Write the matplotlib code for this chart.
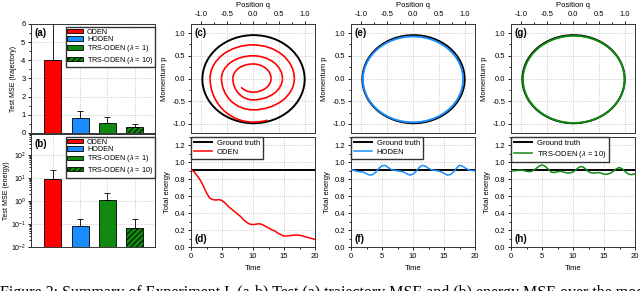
import numpy as np
import matplotlib
matplotlib.use('Agg')
import matplotlib.pyplot as plt
from matplotlib.patches import Arc, Ellipse
from matplotlib.lines import Line2D
from matplotlib.ticker import MultipleLocator, AutoMinorLocator

plt.rcParams['font.family'] = ['Liberation Sans', 'DejaVu Sans']
plt.rcParams['axes.unicode_minus'] = False
plt.rcParams['mathtext.fontset'] = 'custom'
plt.rcParams['mathtext.it'] = 'Liberation Sans:italic'
plt.rcParams['mathtext.rm'] = 'Liberation Sans'
plt.rcParams['hatch.linewidth'] = 0.7

# ---- values ----
models = ['ODEN', 'HODEN', r'TRS-ODEN ($\lambda$ = 1)', r'TRS-ODEN ($\lambda$ = 10)']
mse_traj = [4.03, 0.84, 0.53, 0.31]
mse_traj_err = [3.7, 0.36, 0.33, 0.17]          # upper error only
mse_energy = [9.0, 0.078, 1.05, 0.07]
mse_energy_err = [13.0, 0.087, 1.25, 0.095]

time = np.arange(0, 20.5, 0.5)
energy_truth = 0.915
energy_oden = [0.915, 0.89, 0.84, 0.79, 0.72, 0.64, 0.58, 0.56, 0.555, 0.56,
               0.55, 0.52, 0.48, 0.45, 0.42, 0.39, 0.36, 0.32, 0.29, 0.27,
               0.265, 0.27, 0.275, 0.265, 0.245, 0.225, 0.205, 0.19, 0.165, 0.145,
               0.13, 0.13, 0.135, 0.14, 0.14, 0.14, 0.13, 0.12, 0.11, 0.10, 0.09]
energy_hoden = [0.915, 0.905, 0.895, 0.89, 0.885, 0.865, 0.85, 0.855, 0.885, 0.93,
                0.96, 0.965, 0.94, 0.915, 0.905, 0.90, 0.895, 0.885, 0.865, 0.85,
                0.86, 0.895, 0.94, 0.965, 0.955, 0.93, 0.91, 0.905, 0.90, 0.89,
                0.87, 0.85, 0.855, 0.885, 0.93, 0.965, 0.955, 0.93, 0.91, 0.905, 0.90]
energy_trs = [0.905, 0.90, 0.905, 0.91, 0.905, 0.895, 0.89, 0.90, 0.925, 0.955,
              0.97, 0.955, 0.92, 0.885, 0.88, 0.89, 0.895, 0.885, 0.875, 0.875,
              0.885, 0.915, 0.945, 0.95, 0.925, 0.89, 0.875, 0.875, 0.88, 0.875,
              0.86, 0.86, 0.87, 0.895, 0.925, 0.94, 0.92, 0.885, 0.86, 0.855, 0.865]

# phase orbits: (centre q, centre p, half width in q, half height in p)
orbit_truth = (0.01, -0.015, 0.99, 0.97)
orbit_hoden = [(0.0, -0.02, 0.965, 0.94), (0.0, -0.02, 0.975, 0.95)]
orbit_trs = [(0.015, -0.02, 0.98, 0.955), (0.015, -0.02, 0.99, 0.965)]

# ODEN spiral: distance from origin where it crosses the axes, clockwise from the bottom
oden_cross = [0.96, 0.83, 0.74, 0.80, 0.69, 0.61, 0.50, 0.57, 0.47, 0.39, 0.32, 0.35, 0.30]
oden_start_deg = 287
oden_end_deg = 220

red = '#ff0000'
blue = '#1a8cff'
green = '#0f8a0f'
bar_colors = [red, blue, green, green]

W, H = 640, 291
fs = 5.5


def box(x0, y0, x1, y1):
    return [x0 / W, 1 - y1 / H, (x1 - x0) / W, (y1 - y0) / H]


def style(ax):
    for s in ax.spines.values():
        s.set_linewidth(0.7)
        s.set_color('#333333')
    ax.tick_params(which='both', direction='out', labelsize=fs, width=0.6, pad=1.5)
    ax.tick_params(which='major', length=2.5)
    ax.tick_params(which='minor', length=1.5)
    ax.grid(which='major', color='#bbbbbb', linestyle=':', linewidth=0.6)
    ax.set_axisbelow(True)


def panel_label(ax, txt, y, va):
    ax.text(0.03, y, txt, transform=ax.transAxes, fontsize=7, fontweight='bold', va=va, ha='left')


def bar_legend(ax, bars):
    ax.legend(bars, models, loc='upper right', bbox_to_anchor=(1.0, 0.975), borderaxespad=0,
              fontsize=5.2, fancybox=False, edgecolor='#333333', framealpha=1,
              handlelength=2.2, handleheight=0.6, labelspacing=0.05, borderpad=0.25,
              handletextpad=0.5)


fig = plt.figure(figsize=(6.4, 2.91), dpi=100)
x = np.arange(len(models))

# (a) trajectory MSE
ax = fig.add_axes(box(31, 24, 155, 133))
style(ax)
bars = ax.bar(x, mse_traj, width=0.62, color=bar_colors, edgecolor='black', linewidth=0.6, zorder=2)
bars[3].set_hatch('//////')
ax.errorbar(x, mse_traj, yerr=[np.zeros(len(x)), mse_traj_err], fmt='none', ecolor='black',
            elinewidth=0.6, capsize=2, capthick=0.6, zorder=3)
ax.set_xlim(-0.8, 3.75)
ax.set_ylim(0, 6)
ax.set_xticks(x)
ax.tick_params(axis='x', labelbottom=False, length=0)
ax.yaxis.set_minor_locator(AutoMinorLocator(2))
ax.set_ylabel('Test MSE (trajectory)', fontsize=5, labelpad=3)
bar_legend(ax, bars)
panel_label(ax, '(a)', 0.96, 'top')

# (b) energy MSE
ax = fig.add_axes(box(31, 134, 155, 247))
style(ax)
bars = ax.bar(x, mse_energy, width=0.62, color=bar_colors, edgecolor='black', linewidth=0.6, zorder=2)
bars[3].set_hatch('//////')
ax.errorbar(x, mse_energy, yerr=[np.zeros(len(x)), mse_energy_err], fmt='none', ecolor='black',
            elinewidth=0.6, capsize=2, capthick=0.6, zorder=3)
ax.set_yscale('log')
ax.set_xlim(-0.8, 3.75)
ax.set_ylim(0.01, 800)
ax.set_xticks(x)
ax.tick_params(axis='x', labelbottom=False, length=0)
ax.tick_params(axis='y', labelsize=5, pad=1)
ax.set_ylabel('Test MSE (energy)', fontsize=5, labelpad=1)
bar_legend(ax, bars)
panel_label(ax, '(b)', 0.96, 'top')

# phase portraits and energy curves
columns = [
    (191, '(c)', '(d)', 'ODEN', red, None, energy_oden),
    (351, '(e)', '(f)', 'HODEN', blue, orbit_hoden, energy_hoden),
    (511, '(g)', '(h)', r'TRS-ODEN ($\lambda$ = 10)', green, orbit_trs, energy_trs),
]

for x0, lab_top, lab_bot, name, col, orbits, energy in columns:
    ax = fig.add_axes(box(x0, 24, x0 + 124, 133))
    style(ax)
    ax.set_xlim(-1.2, 1.2)
    ax.set_ylim(-1.2, 1.2)
    ax.xaxis.set_major_locator(MultipleLocator(0.5))
    ax.yaxis.set_major_locator(MultipleLocator(0.5))
    ax.xaxis.set_minor_locator(AutoMinorLocator(2))
    ax.yaxis.set_minor_locator(AutoMinorLocator(2))
    ax.xaxis.tick_top()
    ax.xaxis.set_label_position('top')
    ax.set_xlabel('Position q', fontsize=fs, labelpad=3)
    ax.set_ylabel('Momentum p', fontsize=fs, labelpad=3)
    cq, cp, sq, sp = orbit_truth
    ax.add_patch(Ellipse((cq, cp), 2 * sq, 2 * sp, fill=False, edgecolor='black', linewidth=1.4, zorder=3))
    if orbits is None:
        r = oden_cross
        ax.add_patch(Arc((0, 0), 2 * r[0], 2 * r[0], theta1=270, theta2=oden_start_deg,
                         edgecolor=col, linewidth=1.2, zorder=4))
        for k in range(len(r) - 1):
            a_from = (270 - 90 * k) % 360
            a_to = (270 - 90 * (k + 1)) % 360
            if a_from in (90, 270):
                rp, rq = r[k], r[k + 1]
            else:
                rq, rp = r[k], r[k + 1]
            ax.add_patch(Arc((0, 0), 2 * rq, 2 * rp, theta1=a_to, theta2=a_from,
                             edgecolor=col, linewidth=1.2, zorder=4))
        ax.add_patch(Arc((0, 0), 2 * r[-1], 2 * r[-1], theta1=oden_end_deg, theta2=270,
                         edgecolor=col, linewidth=1.2, zorder=4))
    else:
        for cq, cp, sq, sp in orbits:
            ax.add_patch(Ellipse((cq, cp), 2 * sq, 2 * sp, fill=False, edgecolor=col,
                                 linewidth=1.0, zorder=4))
    panel_label(ax, lab_top, 0.96, 'top')

    ax = fig.add_axes(box(x0, 137, x0 + 124, 247))
    style(ax)
    ax.axhline(energy_truth, color='black', linewidth=1.4, zorder=3)
    ax.plot(time, energy, color=col, linewidth=1.1, zorder=4)
    ax.set_xlim(0, 20)
    ax.set_ylim(0, 1.3)
    ax.xaxis.set_major_locator(MultipleLocator(5))
    ax.yaxis.set_major_locator(MultipleLocator(0.2))
    ax.xaxis.set_minor_locator(AutoMinorLocator(2))
    ax.yaxis.set_minor_locator(AutoMinorLocator(2))
    ax.set_xlabel('Time', fontsize=fs, labelpad=4)
    ax.set_ylabel('Total energy', fontsize=fs, labelpad=3)
    handles = [Line2D([], [], color='black', linewidth=1.4), Line2D([], [], color=col, linewidth=1.1)]
    ax.legend(handles, ['Ground truth', name], loc='upper left', borderaxespad=0,
              fontsize=fs, fancybox=False, edgecolor='#333333', framealpha=1,
              handlelength=2.4, labelspacing=0.2, borderpad=0.35, handletextpad=0.6)
    panel_label(ax, lab_bot, 0.03, 'bottom')

# caption of the source figure, cut by the bottom edge as in the original
fig.text(0.0, 1 - 297 / H,
         'Figure 2: Summary of Experiment I. (a-b) Test (a) trajectory MSE and (b) energy MSE over the models',
         family=['Liberation Serif', 'DejaVu Serif'], fontsize=11.5, va='baseline', ha='left')

fig.savefig('out.png', dpi=100)
